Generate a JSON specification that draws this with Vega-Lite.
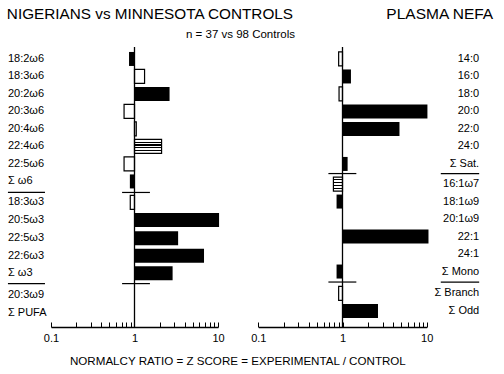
{
  "$schema": "https://vega.github.io/schema/vega-lite/v6.json",
  "width": 504,
  "height": 327,
  "autosize": "none",
  "padding": {"left": 0, "top": 0, "right": 0, "bottom": 47},
  "background": "white",
  "config": {"view": {"stroke": null}, "font": "Liberation Sans", "text": {"font": "Liberation Sans", "color": "black"},
    "axisX": {"orient": "bottom", "values": [0.1, 0.2, 0.3, 0.4, 0.5, 0.6, 0.7, 0.8, 0.9, 1, 2, 3, 4, 5, 6, 7, 8, 9, 10],
      "labelExpr": "datum.value == 0.1 ? '0.1' : datum.value == 1 ? '1' : datum.value == 10 ? '10' : ''",
      "tickSize": -5, "labelPadding": 10, "labelFlush": false, "labelOverlap": false, "labelFontSize": 11,
      "labelFont": "Liberation Sans", "labelColor": "black", "domainColor": "black", "domainWidth": 1.3,
      "tickColor": "black", "tickWidth": 1, "grid": false, "title": null, "zindex": 1}},
  "datasets": {
    "left": [
      {"label": "18:2ω6", "row": 0, "ratio": 0.86, "marker": "filled"},
      {"label": "18:3ω6", "row": 1, "ratio": 1.32, "marker": "open"},
      {"label": "20:2ω6", "row": 2, "ratio": 2.63, "marker": "filled"},
      {"label": "20:3ω6", "row": 3, "ratio": 0.75, "marker": "open"},
      {"label": "20:4ω6", "row": 4, "ratio": 1.05, "marker": "open"},
      {"label": "22:4ω6", "row": 5, "ratio": 2.11, "marker": "hatched"},
      {"label": "22:5ω6", "row": 6, "ratio": 0.75, "marker": "open"},
      {"label": "Σ ω6", "row": 7, "ratio": 0.88, "marker": "filled"},
      {"label": "18:3ω3", "row": 8.2, "ratio": 0.89, "marker": "open"},
      {"label": "20:5ω3", "row": 9.2, "ratio": 10.3, "marker": "filled"},
      {"label": "22:5ω3", "row": 10.25, "ratio": 3.33, "marker": "filled"},
      {"label": "22:6ω3", "row": 11.25, "ratio": 6.8, "marker": "filled"},
      {"label": "Σ ω3", "row": 12.25, "ratio": 2.86, "marker": "filled"},
      {"label": "20:3ω9", "row": 13.5, "ratio": null, "marker": "none"},
      {"label": "Σ PUFA", "row": 14.5, "ratio": null, "marker": "none"}
    ],
    "right": [
      {"label": "14:0", "row": 0, "ratio": 0.9, "marker": "open"},
      {"label": "16:0", "row": 1, "ratio": 1.26, "marker": "filled"},
      {"label": "18:0", "row": 2, "ratio": 0.91, "marker": "open"},
      {"label": "20:0", "row": 3, "ratio": 10.2, "marker": "filled"},
      {"label": "22:0", "row": 4, "ratio": 4.75, "marker": "filled"},
      {"label": "24:0", "row": 5, "ratio": null, "marker": "none"},
      {"label": "Σ Sat.", "row": 6, "ratio": 1.15, "marker": "filled"},
      {"label": "16:1ω7", "row": 7.15, "ratio": 0.78, "marker": "hatched"},
      {"label": "18:1ω9", "row": 8.15, "ratio": 0.85, "marker": "filled"},
      {"label": "20:1ω9", "row": 9.15, "ratio": null, "marker": "none"},
      {"label": "22:1", "row": 10.15, "ratio": 10.5, "marker": "filled"},
      {"label": "24:1", "row": 11.15, "ratio": null, "marker": "none"},
      {"label": "Σ Mono", "row": 12.15, "ratio": 0.85, "marker": "filled"},
      {"label": "Σ Branch", "row": 13.4, "ratio": 0.9, "marker": "open"},
      {"label": "Σ Odd", "row": 14.4, "ratio": 2.64, "marker": "filled"}
    ],
    "leftSep": [{"sep": 7.63}, {"sep": 12.84}],
    "rightSep": [{"sep": 6.55}, {"sep": 12.75}]
  },
  "layer": [
    {
      "data": {"name": "left"},
      "layer": [
        {
          "transform": [{"filter": "datum.marker == 'filled'"}],
          "mark": {"type": "bar", "orient": "horizontal", "height": 14, "fill": "black"},
          "encoding": {
            "x": {"field": "ratio", "type": "quantitative", "scale": {"type": "log", "domain": [0.1, 10], "range": [51, 218]}, "axis": {"orient": "bottom", "title": null}},
            "x2": {"datum": 1},
            "y": {"field": "row", "type": "quantitative", "scale": {"domain": [-3.37, 15.32], "reverse": true, "nice": false, "zero": false, "padding": 0}, "axis": null}
          }
        },
        {
          "transform": [{"filter": "datum.marker == 'open'"}],
          "mark": {"type": "bar", "orient": "horizontal", "height": 14, "fill": "white", "stroke": "black", "strokeWidth": 1.2},
          "encoding": {
            "x": {"field": "ratio", "type": "quantitative", "scale": {"type": "log", "domain": [0.1, 10], "range": [51, 218]}},
            "x2": {"datum": 1},
            "y": {"field": "row", "type": "quantitative", "scale": {"domain": [-3.37, 15.32], "reverse": true, "nice": false, "zero": false, "padding": 0}, "axis": null}
          }
        },
        {
          "transform": [{"filter": "datum.marker == 'hatched'"}],
          "mark": {"type": "bar", "orient": "horizontal", "height": 14, "stroke": "black", "strokeWidth": 1.2,
            "fill": {"gradient": "linear", "x1": 0, "y1": 0, "x2": 0, "y2": 1, "stops": [
              {"offset": 0, "color": "white"}, {"offset": 0.16, "color": "white"}, {"offset": 0.16, "color": "black"}, {"offset": 0.24, "color": "black"}, {"offset": 0.24, "color": "white"},
              {"offset": 0.36, "color": "white"}, {"offset": 0.36, "color": "black"}, {"offset": 0.44, "color": "black"}, {"offset": 0.44, "color": "white"},
              {"offset": 0.56, "color": "white"}, {"offset": 0.56, "color": "black"}, {"offset": 0.64, "color": "black"}, {"offset": 0.64, "color": "white"},
              {"offset": 0.76, "color": "white"}, {"offset": 0.76, "color": "black"}, {"offset": 0.84, "color": "black"}, {"offset": 0.84, "color": "white"},
              {"offset": 1, "color": "white"}]}},
          "encoding": {
            "x": {"field": "ratio", "type": "quantitative", "scale": {"type": "log", "domain": [0.1, 10], "range": [51, 218]}},
            "x2": {"datum": 1},
            "y": {"field": "row", "type": "quantitative", "scale": {"domain": [-3.37, 15.32], "reverse": true, "nice": false, "zero": false, "padding": 0}, "axis": null}
          }
        },
        {
          "data": {"values": [{}]},
          "mark": {"type": "rule", "color": "black", "strokeWidth": 1.3},
          "encoding": {
            "x": {"datum": 1, "type": "quantitative", "scale": {"type": "log", "domain": [0.1, 10], "range": [51, 218]}},
            "y": {"datum": -0.69, "type": "quantitative", "scale": {"domain": [-3.37, 15.32], "reverse": true, "nice": false, "zero": false, "padding": 0}, "axis": null},
            "y2": {"datum": 15.32}
          }
        },
        {
          "data": {"name": "leftSep"},
          "mark": {"type": "rule", "color": "black", "strokeWidth": 1.2},
          "encoding": {
            "x": {"datum": 0.71, "type": "quantitative", "scale": {"type": "log", "domain": [0.1, 10], "range": [51, 218]}},
            "x2": {"datum": 1.53},
            "y": {"field": "sep", "type": "quantitative", "scale": {"domain": [-3.37, 15.32], "reverse": true, "nice": false, "zero": false, "padding": 0}, "axis": null}
          }
        },
        {
          "data": {"name": "leftSep"},
          "mark": {"type": "rule", "color": "black", "strokeWidth": 1.2},
          "encoding": {
            "x": {"datum": 0.0305, "type": "quantitative", "scale": {"type": "log", "domain": [0.1, 10], "range": [51, 218]}},
            "x2": {"datum": 0.0847},
            "y": {"field": "sep", "type": "quantitative", "scale": {"domain": [-3.37, 15.32], "reverse": true, "nice": false, "zero": false, "padding": 0}, "axis": null}
          }
        },
        {
          "mark": {"type": "text", "align": "left", "baseline": "middle", "fontSize": 11, "color": "black"},
          "encoding": {
            "x": {"datum": 0.0305, "type": "quantitative", "scale": {"type": "log", "domain": [0.1, 10], "range": [51, 218]}},
            "y": {"field": "row", "type": "quantitative", "scale": {"domain": [-3.37, 15.32], "reverse": true, "nice": false, "zero": false, "padding": 0}, "axis": null},
            "text": {"field": "label"}
          }
        },
        {
          "data": {"values": [{"t": "NIGERIANS vs MINNESOTA CONTROLS"}]},
          "mark": {"type": "text", "align": "left", "baseline": "middle", "fontSize": 15.3, "color": "black"},
          "encoding": {
            "x": {"datum": 0.0296, "type": "quantitative", "scale": {"type": "log", "domain": [0.1, 10], "range": [51, 218]}},
            "y": {"datum": -2.59, "type": "quantitative", "scale": {"domain": [-3.37, 15.32], "reverse": true, "nice": false, "zero": false, "padding": 0}, "axis": null},
            "text": {"field": "t"}
          }
        },
        {
          "data": {"values": [{"t": "n = 37 vs 98 Controls"}]},
          "mark": {"type": "text", "align": "center", "baseline": "middle", "fontSize": 11.5, "color": "black"},
          "encoding": {
            "x": {"datum": 18.6, "type": "quantitative", "scale": {"type": "log", "domain": [0.1, 10], "range": [51, 218]}},
            "y": {"datum": -1.37, "type": "quantitative", "scale": {"domain": [-3.37, 15.32], "reverse": true, "nice": false, "zero": false, "padding": 0}, "axis": null},
            "text": {"field": "t"}
          }
        },
        {
          "data": {"values": [{"t": "NORMALCY RATIO =  Z SCORE = EXPERIMENTAL / CONTROL"}]},
          "mark": {"type": "text", "align": "center", "baseline": "middle", "fontSize": 11.6, "color": "black"},
          "encoding": {
            "x": {"datum": 17.3, "type": "quantitative", "scale": {"type": "log", "domain": [0.1, 10], "range": [51, 218]}},
            "y": {"datum": 17.33, "type": "quantitative", "scale": {"domain": [-3.37, 15.32], "reverse": true, "nice": false, "zero": false, "padding": 0}, "axis": null},
            "text": {"field": "t"}
          }
        }
      ]
    },
    {
      "data": {"name": "right"},
      "layer": [
        {
          "transform": [{"filter": "datum.marker == 'filled'"}],
          "mark": {"type": "bar", "orient": "horizontal", "height": 14, "fill": "black"},
          "encoding": {
            "x": {"field": "ratio", "type": "quantitative", "scale": {"type": "log", "domain": [0.1, 10], "range": [258.3, 426.7]}, "axis": {"orient": "bottom", "title": null}},
            "x2": {"datum": 1},
            "y": {"field": "row", "type": "quantitative", "scale": {"domain": [-3.37, 15.32], "reverse": true, "nice": false, "zero": false, "padding": 0}, "axis": null}
          }
        },
        {
          "transform": [{"filter": "datum.marker == 'open'"}],
          "mark": {"type": "bar", "orient": "horizontal", "height": 14, "fill": "white", "stroke": "black", "strokeWidth": 1.2},
          "encoding": {
            "x": {"field": "ratio", "type": "quantitative", "scale": {"type": "log", "domain": [0.1, 10], "range": [258.3, 426.7]}},
            "x2": {"datum": 1},
            "y": {"field": "row", "type": "quantitative", "scale": {"domain": [-3.37, 15.32], "reverse": true, "nice": false, "zero": false, "padding": 0}, "axis": null}
          }
        },
        {
          "transform": [{"filter": "datum.marker == 'hatched'"}],
          "mark": {"type": "bar", "orient": "horizontal", "height": 14, "stroke": "black", "strokeWidth": 1.2,
            "fill": {"gradient": "linear", "x1": 0, "y1": 0, "x2": 0, "y2": 1, "stops": [
              {"offset": 0, "color": "white"}, {"offset": 0.16, "color": "white"}, {"offset": 0.16, "color": "black"}, {"offset": 0.24, "color": "black"}, {"offset": 0.24, "color": "white"},
              {"offset": 0.36, "color": "white"}, {"offset": 0.36, "color": "black"}, {"offset": 0.44, "color": "black"}, {"offset": 0.44, "color": "white"},
              {"offset": 0.56, "color": "white"}, {"offset": 0.56, "color": "black"}, {"offset": 0.64, "color": "black"}, {"offset": 0.64, "color": "white"},
              {"offset": 0.76, "color": "white"}, {"offset": 0.76, "color": "black"}, {"offset": 0.84, "color": "black"}, {"offset": 0.84, "color": "white"},
              {"offset": 1, "color": "white"}]}},
          "encoding": {
            "x": {"field": "ratio", "type": "quantitative", "scale": {"type": "log", "domain": [0.1, 10], "range": [258.3, 426.7]}},
            "x2": {"datum": 1},
            "y": {"field": "row", "type": "quantitative", "scale": {"domain": [-3.37, 15.32], "reverse": true, "nice": false, "zero": false, "padding": 0}, "axis": null}
          }
        },
        {
          "data": {"values": [{}]},
          "mark": {"type": "rule", "color": "black", "strokeWidth": 1.3},
          "encoding": {
            "x": {"datum": 1, "type": "quantitative", "scale": {"type": "log", "domain": [0.1, 10], "range": [258.3, 426.7]}},
            "y": {"datum": -0.69, "type": "quantitative", "scale": {"domain": [-3.37, 15.32], "reverse": true, "nice": false, "zero": false, "padding": 0}, "axis": null},
            "y2": {"datum": 15.32}
          }
        },
        {
          "data": {"name": "rightSep"},
          "mark": {"type": "rule", "color": "black", "strokeWidth": 1.2},
          "encoding": {
            "x": {"datum": 0.68, "type": "quantitative", "scale": {"type": "log", "domain": [0.1, 10], "range": [258.3, 426.7]}},
            "x2": {"datum": 1.46},
            "y": {"field": "sep", "type": "quantitative", "scale": {"domain": [-3.37, 15.32], "reverse": true, "nice": false, "zero": false, "padding": 0}, "axis": null}
          }
        },
        {
          "data": {"name": "rightSep"},
          "mark": {"type": "rule", "color": "black", "strokeWidth": 1.2},
          "encoding": {
            "x": {"datum": 14.7, "type": "quantitative", "scale": {"type": "log", "domain": [0.1, 10], "range": [258.3, 426.7]}},
            "x2": {"datum": 42},
            "y": {"field": "sep", "type": "quantitative", "scale": {"domain": [-3.37, 15.32], "reverse": true, "nice": false, "zero": false, "padding": 0}, "axis": null}
          }
        },
        {
          "mark": {"type": "text", "align": "right", "baseline": "middle", "fontSize": 11, "color": "black"},
          "encoding": {
            "x": {"datum": 42, "type": "quantitative", "scale": {"type": "log", "domain": [0.1, 10], "range": [258.3, 426.7]}},
            "y": {"field": "row", "type": "quantitative", "scale": {"domain": [-3.37, 15.32], "reverse": true, "nice": false, "zero": false, "padding": 0}, "axis": null},
            "text": {"field": "label"}
          }
        },
        {
          "data": {"values": [{"t": "PLASMA NEFA"}]},
          "mark": {"type": "text", "align": "right", "baseline": "middle", "fontSize": 15.5, "color": "black"},
          "encoding": {
            "x": {"datum": 61.6, "type": "quantitative", "scale": {"type": "log", "domain": [0.1, 10], "range": [258.3, 426.7]}},
            "y": {"datum": -2.59, "type": "quantitative", "scale": {"domain": [-3.37, 15.32], "reverse": true, "nice": false, "zero": false, "padding": 0}, "axis": null},
            "text": {"field": "t"}
          }
        }
      ]
    }
  ],
  "resolve": {"scale": {"x": "independent"}, "axis": {"x": "independent"}}
}
